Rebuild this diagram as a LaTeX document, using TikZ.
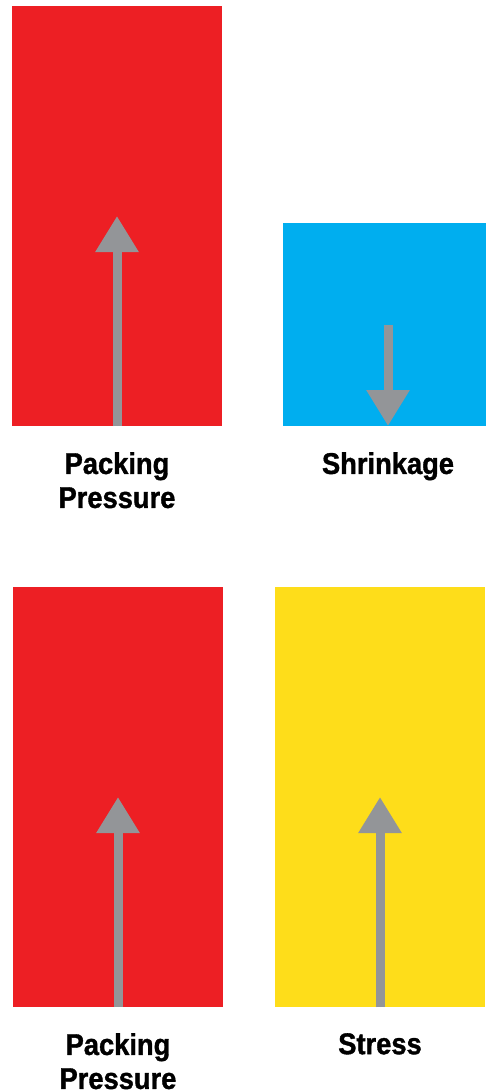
\documentclass[tikz,border=0pt]{standalone}
\usepackage{fontspec}
\setmainfont[FakeStretch=0.91, BoldFeatures={FakeBold=1.2}]{Liberation Sans}
\usepackage{tikz}
\usetikzlibrary{arrows.meta, positioning}

\definecolor{packred}{HTML}{ED1F24}
\definecolor{shrinkblue}{HTML}{00AEEF}
\definecolor{stressyellow}{HTML}{FEDD1A}
\definecolor{arrowgray}{HTML}{939598}

\begin{document}
\begin{tikzpicture}[
    x=1pt, y=-1pt,
    node distance=26pt,
    block/.style={rectangle, inner sep=0pt, outer sep=0pt, anchor=north west, minimum width=210pt},
    label/.style={inner sep=0pt, align=center, font=\fontsize{30}{34}\selectfont\bfseries},
    arrow/.style={-{Triangle[width=41pt, length=36pt]}, line width=9pt, draw=arrowgray, fill=arrowgray}
]
\useasboundingbox (0,0) rectangle (485,1092);

\node[block, fill=packred, minimum height=420pt] (pack1) at (12,6) {};
\node[block, fill=shrinkblue, minimum height=203pt] (shrink) at (283,223) {};
\node[block, fill=packred, minimum height=420pt] (pack2) at (13,587) {};
\node[block, fill=stressyellow, minimum height=420pt] (stress) at (275,587) {};

\node[label, below=of pack1] (pack1label) {Packing\\Pressure};
\node[label, below=of shrink] (shrinklabel) {Shrinkage};
\node[label, below=of pack2] (pack2label) {Packing\\Pressure};
\node[label, below=of stress] (stresslabel) {Stress};

\draw[arrow] (pack1.south) -- (pack1.center);
\draw[arrow] (shrink.center) -- (shrink.south);
\draw[arrow] (pack2.south) -- (pack2.center);
\draw[arrow] (stress.south) -- (stress.center);
\end{tikzpicture}
\end{document}
